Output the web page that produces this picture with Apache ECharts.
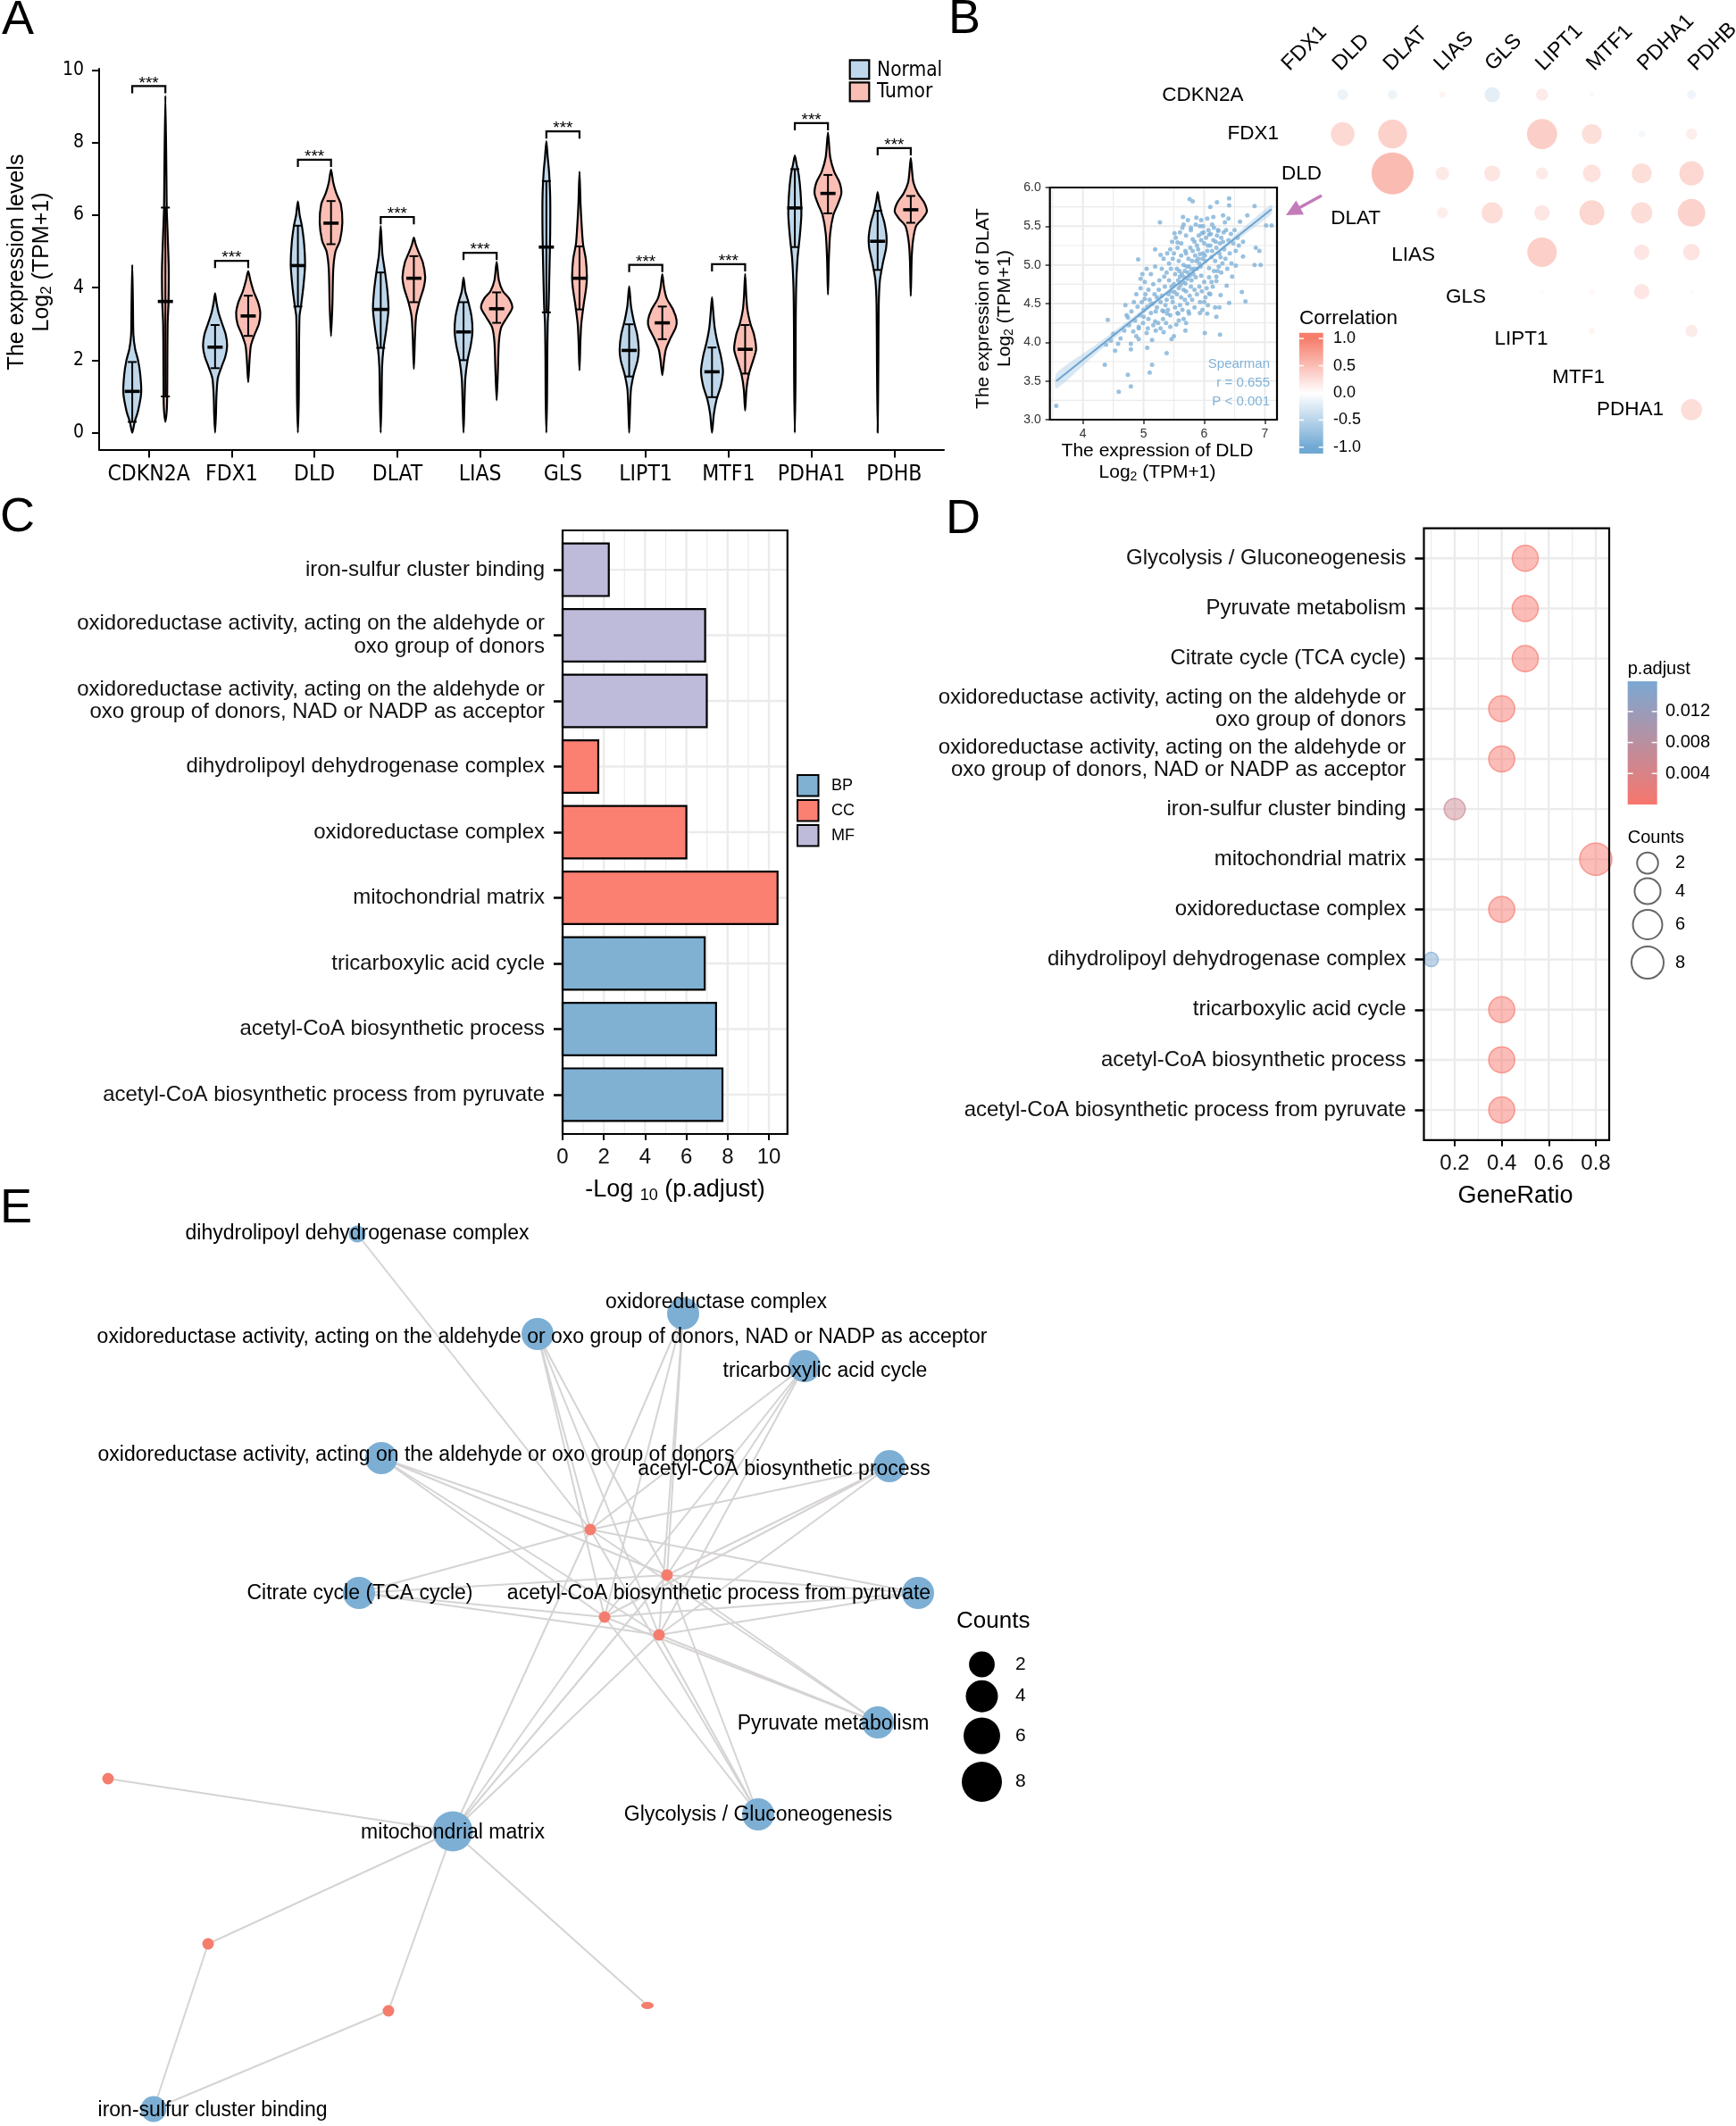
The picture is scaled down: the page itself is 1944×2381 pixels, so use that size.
<!DOCTYPE html>
<html><head><meta charset="utf-8">
<script src="https://cdn.jsdelivr.net/npm/echarts@6/dist/echarts.min.js"></script>
<style>html,body{margin:0;padding:0;background:#fff}#c{width:1944px;height:2381px}</style>
</head><body><div id="c"></div>
<script>
// ================= DATA =================
// Panel A
const genesA = ['CDKN2A','FDX1','DLD','DLAT','LIAS','GLS','LIPT1','MTF1','PDHA1','PDHB'];
// violin profiles: [expression value, half-width reading]
const violinNormal = [
 [[0,0],[0.3,2.7],[0.6,6.5],[1.1,10],[1.6,9],[2.0,6.5],[2.3,3.3],[2.7,1.3],[3.5,0.8],[4.63,0]],
 [[0,0],[0.5,1],[1.0,1.5],[1.5,3],[1.8,7],[2.1,11.5],[2.4,13.5],[2.7,12],[3.0,8],[3.3,4],[3.6,1.5],[3.85,0]],
 [[0,0],[1,1],[2,1.2],[3.2,1.8],[3.5,3.5],[4.0,6],[4.6,8],[5.2,7],[5.7,4.5],[6.0,2],[6.38,0]],
 [[0,0],[1,1],[1.8,1.5],[2.3,3],[2.8,6],[3.4,8.7],[3.9,7.5],[4.4,5],[4.9,2],[5.3,1],[5.7,0]],
 [[0,0],[0.8,1],[1.5,2],[2.0,4.5],[2.4,8],[2.8,10],[3.2,9],[3.6,5.5],[3.9,2],[4.28,0]],
 [[0,0],[1,0.8],[2,1],[3,1.5],[3.5,2.5],[4.5,3.5],[5.5,4.3],[6.5,4.3],[7.2,3],[7.6,1.5],[8.04,0]],
 [[0,0],[0.7,1],[1.2,2],[1.6,5],[2.0,9.5],[2.3,10.7],[2.7,9],[3.1,5],[3.5,2],[4.04,0]],
 [[0,0],[0.5,2],[0.9,5],[1.3,10],[1.7,12.3],[2.1,10],[2.5,6],[2.9,3],[3.3,1.5],[3.74,0]],
 [[0,0],[1.5,0.8],[3,1],[4.0,1.5],[4.8,3],[5.4,5.5],[6.0,7.3],[6.6,6.5],[7.1,4.5],[7.4,2],[7.65,0]],
 [[0,0],[2,0.8],[3.5,1.2],[4.2,2.5],[4.7,6],[5.1,9.5],[5.4,10],[5.8,7.5],[6.1,4],[6.4,1.5],[6.64,0]]
];
const violinTumor = [
 [[0.3,0],[0.6,1.5],[1,2],[2,2.2],[3,2.5],[3.6,3.5],[4.5,3.8],[5.5,2.5],[6.2,1.5],[7,1.2],[9.3,0]],
 [[1.39,0],[2.0,1.5],[2.4,3],[2.7,7],[3.0,12],[3.3,13.5],[3.6,11],[3.9,6],[4.2,2.5],[4.46,0]],
 [[2.66,0],[3.5,1.5],[4.5,2.5],[5.0,5],[5.3,10],[5.8,12.7],[6.3,11],[6.6,6],[6.9,2.5],[7.26,0]],
 [[1.76,0],[2.6,1.2],[3.2,2.5],[3.6,6],[4.0,11],[4.3,12.7],[4.7,10],[5.0,5],[5.2,2],[5.38,0]],
 [[0.89,0],[1.8,1.5],[2.5,2.5],[2.9,5],[3.2,12],[3.45,17.5],[3.7,14],[3.9,7],[4.2,2.5],[4.71,0]],
 [[1.72,0],[2.5,1],[3.0,2],[3.5,4.5],[4.0,7.5],[4.3,8.3],[4.8,7],[5.2,4],[5.7,2.5],[6.3,1.2],[7.2,0]],
 [[1.59,0],[2.0,2],[2.3,4],[2.6,9],[2.9,15],[3.1,16],[3.4,12],[3.7,5],[4.0,2],[4.37,0]],
 [[0.61,0],[1.2,1.5],[1.6,4],[2.0,9],[2.3,12.3],[2.7,10],[3.0,6],[3.4,2.5],[3.8,1.2],[4.38,0]],
 [[3.81,0],[4.8,1],[5.5,2.5],[6.0,6],[6.3,11],[6.6,15],[6.9,13],[7.2,7],[7.6,2.5],[8.28,0]],
 [[3.77,0],[4.8,1],[5.3,2.5],[5.7,6],[5.9,13],[6.1,18],[6.35,15],[6.6,8],[6.9,3],[7.2,1.5],[7.58,0]]
];
// [low, median, high]
const statNormal = [[0.30,1.14,1.95],[1.78,2.36,2.97],[3.48,4.61,5.71],[2.34,3.40,4.42],[2.0,2.78,3.6],[3.32,5.12,6.94],[1.55,2.27,2.99],[0.98,1.68,2.35],[5.12,6.2,7.27],[4.49,5.28,6.12]];
const statTumor = [[1.0,3.62,6.21],[2.67,3.22,3.78],[5.2,5.78,6.39],[3.6,4.26,4.87],[3.03,3.42,3.87],[3.4,4.26,5.14],[2.58,3.03,3.48],[1.63,2.3,2.97],[6.05,6.6,7.11],[5.79,6.15,6.53]];
const sigBracketY = [9.56,4.74,7.53,5.95,4.96,8.31,4.63,4.65,8.54,7.85];
const sigLabel = ['***','***','***','***','***','***','***','***','***','***'];
const ticksA_y = [0,2,4,6,8,10];

// Panel B - correlation matrix (upper triangle)
const corrRowGenes = ['CDKN2A','FDX1','DLD','DLAT','LIAS','GLS','LIPT1','MTF1','PDHA1'];
const corrColGenes = ['FDX1','DLD','DLAT','LIAS','GLS','LIPT1','MTF1','PDHA1','PDHB'];
const corrUpper = [
 [0.01,-0.17,-0.15,0.10,-0.24,0.19,0.08,0.03,-0.14],
 [0.37,0.45,0.02,-0.04,0.47,0.31,-0.10,0.17],
 [0.655,0.21,0.25,0.19,0.28,0.31,0.38],
 [0.17,0.33,0.24,0.39,0.33,0.43],
 [0.03,0.46,0.04,0.24,0.26],
 [-0.06,0.08,0.24,0.06],
 [0.10,0.01,0.19],
 [0.03,0.01],
 [0.33]
];
const corrLegendTicks = [1.0,0.5,0.0,-0.5,-1.0];
// Panel B - DLD vs DLAT scatter
const dldDlatPoints = [
 [3.56,3.18],[4.59,3.36],[4.79,3.43],[4.74,3.58],[4.36,3.71],[5.10,3.61],[5.14,3.71],[5.38,3.86],[4.53,3.89],[4.79,3.91],
 [4.38,3.97],[4.46,4.02],[4.50,4.11],[4.41,4.29],[4.74,4.32],[4.91,5.07],[5.27,5.55],[6.01,4.12],[6.26,4.10],[6.62,4.65],
 [6.68,4.53],[6.41,4.51],[6.83,5.00],[6.93,5.00],[6.85,5.22],[6.91,5.18],[7.02,5.51],[7.11,5.51],[6.83,5.76],[6.71,5.64],
 [6.41,5.86],[6.41,5.77],[6.21,5.81],[5.76,5.85],[5.81,5.82],[6.10,5.75],[5.65,5.62],[5.87,5.61],[4.95,4.82],[5.02,4.56],
 [5.19,4.98],[5.19,5.20],[5.28,5.13],[5.44,5.20],[5.07,4.18],[4.92,4.20],[4.83,4.14],[4.88,4.08],[4.79,3.98],[4.92,4.04],
 [5.06,3.93],[5.14,4.03],[5.46,4.04],[5.50,4.08],[5.69,4.15],[5.33,4.13],[5.19,4.27],[5.00,4.33],[6.18,4.45],[6.27,4.61],
 [6.37,4.73],[6.46,4.85],[6.52,4.99],[6.64,5.11],[6.57,5.25],[6.64,5.30],[6.50,5.45],[6.59,5.56],[6.40,5.60],[6.31,5.64],
 [6.13,5.52],[6.23,5.44],[6.08,5.39],[5.66,5.52],[5.51,5.41],[5.56,5.29],[5.78,5.45],[5.93,5.50],[5.96,5.41],[5.81,5.33],
 [5.69,5.18],[6.20,4.33],[6.25,4.45],[6.05,4.37],[5.93,4.38],[5.75,4.37],[5.70,4.25],[5.54,4.23],[5.57,4.37],[5.39,4.37],
 [5.31,4.41],[5.22,4.45],[5.12,4.49],[6.08,4.63],[6.14,4.72],[6.20,4.79],[6.00,4.52],
 [5.30,4.60],[5.35,4.72],[5.38,4.55],[5.42,4.80],[5.45,4.66],[5.48,4.52],[5.50,4.75],[5.52,4.88],[5.55,4.62],[5.58,4.70],
 [5.60,4.85],[5.62,4.58],[5.65,4.78],[5.68,4.92],[5.70,4.66],[5.72,4.82],[5.75,4.98],[5.78,4.72],[5.80,5.05],[5.82,4.88],
 [5.85,5.12],[5.88,4.95],[5.90,5.20],[5.92,5.02],[5.95,4.86],[5.98,5.15],[6.00,5.28],[6.02,5.05],[6.05,5.18],[6.08,4.96],
 [6.10,5.25],[6.12,5.10],[6.15,5.32],[6.18,5.05],[6.20,5.22],[6.22,4.92],[6.25,5.15],[6.28,5.35],[6.30,5.02],[6.33,5.20],
 [5.40,4.42],[5.44,4.35],[5.47,4.58],[5.36,4.48],[5.33,4.40],[5.28,4.52],[5.25,4.68],[5.22,4.58],[5.20,4.40],[5.18,4.62],
 [5.15,4.50],[5.12,4.38],[5.10,4.55],[5.06,4.46],[5.03,4.62],[5.00,4.42],[4.97,4.52],[4.94,4.35],[4.90,4.46],[4.86,4.28],
 [5.55,4.95],[5.58,5.05],[5.62,5.12],[5.66,5.00],[5.70,5.15],[5.74,5.08],[5.77,5.22],[5.81,5.18],[5.84,5.30],[5.88,5.25],
 [5.91,5.38],[5.95,5.32],[5.99,5.42],[6.03,5.35],[6.07,5.45],[6.11,5.40],[6.16,5.48],[6.21,5.38],[6.26,5.28],[6.32,5.42],
 [5.52,4.45],[5.56,4.38],[5.60,4.48],[5.64,4.42],[5.68,4.55],[5.72,4.50],[5.76,4.60],[5.80,4.55],[5.84,4.68],[5.88,4.62],
 [5.92,4.72],[5.96,4.66],[6.00,4.78],[6.04,4.70],[6.08,4.84],[6.12,4.78],[6.16,4.92],[6.20,4.85],[6.24,4.98],[6.28,4.90],
 [6.35,5.08],[6.38,4.95],[6.42,5.15],[6.45,5.02],[6.48,5.28],[6.52,5.18],[6.40,5.32],[6.36,5.45],[6.44,5.40],[6.55,5.35],
 [5.45,4.95],[5.48,5.08],[5.42,5.02],[5.38,4.90],[5.34,4.85],[5.30,4.95],[5.26,4.80],[5.50,5.15],[5.56,5.22],[5.62,5.28],
 [5.66,4.68],[5.63,4.88],[5.69,4.76],[5.73,4.90],[5.79,4.80],[5.83,4.95],[5.86,4.84],[5.90,5.08],[5.94,4.98],[5.97,5.08],
 [5.41,4.62],[5.46,4.72],[5.51,4.65],[5.57,4.80],[5.59,4.92],[5.61,4.74],[5.67,4.84],[5.71,4.98],[5.76,4.86],[5.79,4.94],
 [5.87,5.05],[5.93,5.14],[6.01,5.12],[6.06,5.25],[6.13,5.18],[6.19,5.30],[6.23,5.45],[6.27,5.10],[6.31,5.30],[6.34,5.55],
 [5.32,4.30],[5.24,4.25],[5.16,4.22],[5.08,4.30],[5.28,4.18],[5.37,4.25],[5.44,4.20],[5.58,4.28],[5.66,4.30],[5.74,4.40],
 [5.84,4.45],[5.93,4.52],[6.02,4.58],[6.10,4.62],[5.53,5.35],[5.60,5.42],[5.70,5.38],[5.78,5.48],[5.86,5.52],[5.95,5.58],
 [6.05,5.60],[6.15,5.62],[5.97,4.42],[6.06,4.48],[5.98,5.50],[5.73,5.58],[5.64,5.48],[5.47,5.30],[5.39,5.15],[5.33,5.08],
 [4.80,4.40],[4.84,4.52],[4.88,4.62],[4.95,4.70],[5.02,4.78],[4.76,4.22],[4.72,4.35],[4.68,4.15],[4.62,4.05],[4.58,3.98],
 [4.70,4.48],[4.98,4.88],[5.05,4.95],[5.12,4.88],[5.16,4.75],[5.08,4.68],[4.92,4.18],[4.99,4.25],[5.05,4.12],[5.20,4.15]
];
const regLine = [[3.56,3.50],[7.11,5.72]];
const regBand = [[3.56,3.40,3.60],[4.2,3.84,3.96],[5.0,4.365,4.435],[5.7,4.816,4.86],[6.4,5.241,5.311],[7.11,5.66,5.78]];
const spearmanText = ['Spearman','r = 0.655','P < 0.001'];
const ticksB_x = [4,5,6,7];
const ticksB_y = [3.0,3.5,4.0,4.5,5.0,5.5,6.0];

// Panel C (bottom -> top)
const goTerms = ['acetyl-CoA biosynthetic process from pyruvate','acetyl-CoA biosynthetic process','tricarboxylic acid cycle','mitochondrial matrix','oxidoreductase complex','dihydrolipoyl dehydrogenase complex','oxidoreductase activity, acting on the aldehyde or\noxo group of donors, NAD or NADP as acceptor','oxidoreductase activity, acting on the aldehyde or\noxo group of donors','iron-sulfur cluster binding'];
const goOntology = ['BP','BP','BP','CC','CC','CC','MF','MF','MF'];
const goNegLog10P = [7.75,7.44,6.89,10.42,6.0,1.73,6.99,6.91,2.24];
const ontologyNames = ['BP','CC','MF'];
const ticksC_x = [0,2,4,6,8,10];

// Panel D (bottom -> top)
const termsD = ['acetyl-CoA biosynthetic process from pyruvate','acetyl-CoA biosynthetic process','tricarboxylic acid cycle','dihydrolipoyl dehydrogenase complex','oxidoreductase complex','mitochondrial matrix','iron-sulfur cluster binding','oxidoreductase activity, acting on the aldehyde or\noxo group of donors, NAD or NADP as acceptor','oxidoreductase activity, acting on the aldehyde or\noxo group of donors','Citrate cycle (TCA cycle)','Pyruvate metabolism','Glycolysis / Gluconeogenesis'];
const geneRatioD = [0.4,0.4,0.4,0.1,0.4,0.8,0.2,0.4,0.4,0.5,0.5,0.5];
const countsD = [4,4,4,1,4,8,2,4,4,4,4,4];
const pAdjustD = [1.8e-8,3.6e-8,1.3e-7,0.0159,1.0e-6,3.5e-11,0.0058,1.0e-7,1.2e-7,2e-6,1e-6,3e-6];
const ticksD_x = [0.2,0.4,0.6,0.8];
const pLegendTicks = [0.012,0.008,0.004];
const countLegend = [2,4,6,8];

// Panel E - network (layout units)
const netCategories = ['dihydrolipoyl dehydrogenase complex','oxidoreductase complex','oxidoreductase activity, acting on the aldehyde or oxo group of donors, NAD or NADP as acceptor','tricarboxylic acid cycle','oxidoreductase activity, acting on the aldehyde or oxo group of donors','acetyl-CoA biosynthetic process','Citrate cycle (TCA cycle)','acetyl-CoA biosynthetic process from pyruvate','Pyruvate metabolism','Glycolysis / Gluconeogenesis','mitochondrial matrix','iron-sulfur cluster binding'];
const netCatCounts = [1,4,4,4,4,4,4,4,4,4,8,2];
const netCatLayout = [[3.00,0.12],[6.65,1.01],[5.02,1.24],[8.01,1.60],[3.27,2.63],[8.96,2.72],[3.02,4.14],[9.28,4.14],[8.83,5.59],[7.49,6.62],[4.07,6.81],[0.72,9.92]];
const netGeneLayout = [[5.61,3.43],[6.47,3.94],[5.77,4.41],[6.38,4.61],[0.21,6.22],[1.33,8.07],[3.35,8.82],[6.25,8.76]];
const netCatGenes = [[0],[0,1,2,3],[0,1,2,3],[0,1,2,3],[0,1,2,3],[0,1,2,3],[0,1,2,3],[0,1,2,3],[0,1,2,3],[0,1,2,3],[0,1,2,3,4,5,6,7],[5,6]];

// ================= STYLE / LAYOUT =================
const FONT = '"Liberation Sans", Arial, Helvetica, sans-serif';
const NARROW = '"Liberation Sans Narrow", "Arial Narrow", "DejaVu Sans Condensed", sans-serif';
const VW = 1/92.75;            // violin width reading -> category units
const C_NORMAL = '#BED7EB', C_TUMOR = '#FABEB4';
const ONT_COLOR = {BP:'#80B1D3', CC:'#FB8072', MF:'#BEBADA'};
const GRID_COL = '#EBEBEB';
const CORR_DIAM = 71.8;
const RED = [246,125,108], BLUE = [111,168,211];
const P_RED = [248,118,109], P_BLUE = [123,168,210];
const P_MAX = 0.0159;
function mix(a,b,t){return a.map((v,i)=>Math.round(v+(b[i]-v)*t));}
function rgb(c,a){return a===undefined?`rgb(${c[0]},${c[1]},${c[2]})`:`rgba(${c[0]},${c[1]},${c[2]},${a})`;}
function corrColor(r){return r>=0? rgb(mix([255,255,255],RED,r)) : rgb(mix([255,255,255],BLUE,-r));}
function pColor(p,a){return rgb(mix(P_RED,P_BLUE,Math.min(1,p/P_MAX)),a);}
const sizeD = c => 16 + 20*Math.sqrt((c-1)/7);
const sizeE = c => 19 + 26*Math.sqrt((c-1)/7);

const corrRowLabelRight = [1392.6,1432,1480,1546,1607,1664,1733.6,1797,1863];
const corrRowLabelY = [107,150,195,245,286,333,380,423,459];
const netLabelOffset = [[0,0],[37,-12],[5,4],[23,6],[39,-3],[-118,4],[1,1],[-223,1],[-50,2],[0,1],[0,2],[66,2]];

// ================= CHART =================
const chart = echarts.init(document.getElementById('c'), null, {renderer:'canvas', width:1944, height:2381});

const grids = [
 {left:111, top:77, width:946, height:426.6},
 {left:1419.9, top:83.95, width:502.2, height:396.9},
 {left:1175.7, top:210, width:254.3, height:260},
 {left:630, top:594, width:251.8, height:676},
 {left:1594.5, top:591.6, width:207.5, height:685.2},
 {left:100, top:1370, width:1000, height:1000}
].map(g=>Object.assign({containLabel:false, outerBoundsMode:'none', show:false}, g));

function valAxis(gi, min, max, extra){
  return Object.assign({type:'value', gridIndex:gi, min, max, splitLine:{show:false}, minorSplitLine:{show:false},
    axisLine:{show:false, onZero:false}}, extra||{});
}
const xAxes = [
 valAxis(0,-0.6,9.6,{axisLine:{show:true,onZero:false,lineStyle:{color:'#000',width:2}},
   axisTick:{show:true,customValues:genesA.map((g,i)=>i),length:9,lineStyle:{color:'#000',width:2}},
   axisLabel:{customValues:genesA.map((g,i)=>i),formatter:v=>genesA[Math.round(v)],fontFamily:NARROW,fontSize:24.5,color:'#000',margin:16}}),
 valAxis(1,-0.5,8.5,{show:false}),
 valAxis(2,3.455,7.2,{axisTick:{show:true,customValues:ticksB_x,length:5,lineStyle:{color:'#333',width:1.5}},
   axisLabel:{customValues:ticksB_x,fontFamily:FONT,fontSize:14,color:'#333',margin:9}}),
 valAxis(3,0,10.9,{axisTick:{show:true,customValues:ticksC_x,length:7,lineStyle:{color:'#000',width:2}},
   axisLabel:{customValues:ticksC_x,fontFamily:FONT,fontSize:24,color:'#111',margin:14}}),
 valAxis(4,0.069,0.857,{axisTick:{show:true,customValues:ticksD_x,length:7,lineStyle:{color:'#000',width:2}},
   axisLabel:{customValues:ticksD_x,formatter:v=>v.toFixed(1),fontFamily:FONT,fontSize:24,color:'#111',margin:15}}),
 valAxis(5,0,10,{show:false})
];
const yAxes = [
 valAxis(0,-0.468,10.039,{axisLine:{show:true,onZero:false,lineStyle:{color:'#000',width:2}},
   axisTick:{show:true,customValues:ticksA_y,length:8,lineStyle:{color:'#000',width:2}},
   axisLabel:{customValues:ticksA_y,fontFamily:NARROW,fontSize:21,color:'#000',margin:17}}),
 valAxis(1,-0.5,8.5,{show:false,inverse:true}),
 valAxis(2,3,6,{axisTick:{show:true,customValues:ticksB_y,length:5,lineStyle:{color:'#333',width:1.5}},
   axisLabel:{customValues:ticksB_y,formatter:v=>v.toFixed(1),fontFamily:FONT,fontSize:14,color:'#333',margin:10}}),
 valAxis(3,-0.6,8.6,{axisTick:{show:true,customValues:goTerms.map((t,i)=>i),length:10,lineStyle:{color:'#000',width:2.5}},
   axisLabel:{customValues:goTerms.map((t,i)=>i),formatter:v=>goTerms[Math.round(v)],fontFamily:FONT,fontSize:24,lineHeight:25.5,color:'#111',margin:20,align:'right'}}),
 valAxis(4,-0.6,11.6,{axisTick:{show:true,customValues:termsD.map((t,i)=>i),length:10,lineStyle:{color:'#000',width:2.5}},
   axisLabel:{customValues:termsD.map((t,i)=>i),formatter:v=>termsD[Math.round(v)],fontFamily:FONT,fontSize:24,lineHeight:25.5,color:'#111',margin:20,align:'right'}}),
 valAxis(5,0,10,{show:false,inverse:true})
];

function gridLines(gi, ax, ay, vlines, hlines){
  return {type:'custom', xAxisIndex:gi, yAxisIndex:gi, z:1, silent:true, data:[[ax,ay]],
    renderItem(params, api){
      const cs = params.coordSys; const ch = [];
      vlines.forEach(([vals,w])=>vals.forEach(v=>{const x=api.coord([v,ay])[0];
        ch.push({type:'line',shape:{x1:x,y1:cs.y,x2:x,y2:cs.y+cs.height},style:{stroke:GRID_COL,lineWidth:w}});}));
      hlines.forEach(([vals,w])=>vals.forEach(v=>{const y=api.coord([ax,v])[1];
        ch.push({type:'line',shape:{x1:cs.x,y1:y,x2:cs.x+cs.width,y2:y},style:{stroke:GRID_COL,lineWidth:w}});}));
      return {type:'group',children:ch};
    }};
}
function frame(gi, ax, ay){
  return {type:'custom', xAxisIndex:gi, yAxisIndex:gi, z:8, silent:true, data:[[ax,ay]],
    renderItem(params){const cs=params.coordSys;
      return {type:'rect',shape:{x:cs.x,y:cs.y,width:cs.width,height:cs.height},style:{fill:'none',stroke:'#000',lineWidth:2.2}};}};
}
function violinSeries(profiles, offset, color){
  return {type:'custom', xAxisIndex:0, yAxisIndex:0, z:2, silent:true,
    data: profiles.map((p,i)=>[i, p[0][0]]),
    renderItem(params, api){
      const i = api.value(0); const prof = profiles[i]; const cx = i + offset;
      const right = prof.map(([v,w])=>api.coord([cx + w*VW, v]));
      const left = prof.slice(1,-1).reverse().map(([v,w])=>api.coord([cx - w*VW, v]));
      return {type:'polygon', shape:{points:right.concat(left), smooth:0.25},
        style:{fill:color, stroke:'#000', lineWidth:2.2, lineJoin:'round'}};
    }};
}
function statSeries(stats, offset){
  return {type:'custom', xAxisIndex:0, yAxisIndex:0, z:3, silent:true,
    data: stats.map((s,i)=>[i, s[1]]),
    renderItem(params, api){
      const i = api.value(0); const [lo,md,hi] = stats[i]; const cx = i + offset;
      const c = (dx,v)=>api.coord([cx+dx*VW, v]);
      const L = (a,b,w)=>({type:'line',shape:{x1:a[0],y1:a[1],x2:b[0],y2:b[1]},style:{stroke:'#000',lineWidth:w}});
      return {type:'group',children:[
        L(c(0,lo),c(0,hi),2), L(c(-5,lo),c(5,lo),2), L(c(-5,hi),c(5,hi),2), L(c(-8.5,md),c(8.5,md),3.6)]};
    }};
}
const bracketSeries = {type:'custom', xAxisIndex:0, yAxisIndex:0, z:3, silent:true,
  data: sigBracketY.map((y,i)=>[i,y]),
  renderItem(params, api){
    const i = api.value(0), y = api.value(1);
    const a=api.coord([i-0.2,y-0.2]), b=api.coord([i-0.2,y]), c=api.coord([i+0.2,y]), d=api.coord([i+0.2,y-0.2]);
    return {type:'group',children:[
      {type:'polyline',shape:{points:[a,b,c,d]},style:{stroke:'#000',lineWidth:2.2,fill:'none'}},
      {type:'text',style:{text:sigLabel[i],x:(b[0]+c[0])/2,y:b[1]-3,fill:'#000',fontSize:19,fontFamily:FONT,align:'center',verticalAlign:'middle'}}]};
  }};

// corr matrix data
const corrData = [];
corrUpper.forEach((row,r)=>row.forEach((v,k)=>{const c=r+k;
  corrData.push({value:[c,r,v], itemStyle:{color:corrColor(v)}});}));

// network
const netNodes = netCategories.map((n,i)=>({name:n, value:netCatLayout[i], symbolSize:sizeE(netCatCounts[i]),
  itemStyle:{color:'#7DAFD4'}, label:{show:true, offset:netLabelOffset[i]}}))
 .concat(netGeneLayout.map((p,j)=>({name:'gene'+(j+1), value:p, symbolSize: j===7?[14,8]:13,
  itemStyle:{color:'#F47D6E'}, label:{show:false}})));
const netLinks = [];
netCatGenes.forEach((gs,ci)=>gs.forEach(g=>netLinks.push({source:ci, target:netCategories.length+g})));

const series = [
  // A
  violinSeries(violinNormal,-0.2,C_NORMAL), violinSeries(violinTumor,0.2,C_TUMOR),
  statSeries(statNormal,-0.2), statSeries(statTumor,0.2), bracketSeries,
  // B corr
  {type:'scatter', xAxisIndex:1, yAxisIndex:1, z:2, silent:true, data:corrData, symbol:'circle',
    symbolSize:v=>CORR_DIAM*Math.abs(v[2])},
  // B scatter
  gridLines(2,5,4.5,[[[3.5,4.5,5.5,6.5],1.1],[ticksB_x,2]],[[[3.25,3.75,4.25,4.75,5.25,5.75],1.1],[ticksB_y,2]]),
  {type:'scatter', xAxisIndex:2, yAxisIndex:2, z:2, silent:true, data:dldDlatPoints, symbolSize:5,
    itemStyle:{color:'#7FB2D8', opacity:0.8}},
  {type:'custom', xAxisIndex:2, yAxisIndex:2, z:3, silent:true, data:[[regBand[0][0],regBand[0][1]]],
    renderItem(params, api){
      const up = regBand.map(b=>api.coord([b[0],b[2]])); const lo = regBand.slice().reverse().map(b=>api.coord([b[0],b[1]]));
      return {type:'polygon',shape:{points:up.concat(lo),smooth:0.2},style:{fill:'rgba(160,198,228,0.4)'}};
    }},
  {type:'line', xAxisIndex:2, yAxisIndex:2, z:4, silent:true, data:regLine, showSymbol:false, symbol:'none',
    lineStyle:{color:'#6CA2CF', width:2}},
  frame(2,5,4.5),
  // C
  gridLines(3,5,4,[[[1,3,5,7,9],1.2],[ticksC_x,2.4]],[[goTerms.map((t,i)=>i),2.4]]),
  {type:'custom', xAxisIndex:3, yAxisIndex:3, z:3, silent:true, data:goNegLog10P.map((v,i)=>[v,i]),
    renderItem(params, api){
      const v=api.value(0), i=api.value(1); const p0=api.coord([0,i+0.4]), p1=api.coord([v,i-0.4]);
      return {type:'rect',shape:{x:p0[0],y:p0[1],width:p1[0]-p0[0],height:p1[1]-p0[1]},
        style:{fill:ONT_COLOR[goOntology[i]],stroke:'#000',lineWidth:2.2}};
    }},
  frame(3,5,4),
  // D
  gridLines(4,0.4,5,[[[0.1,0.3,0.5,0.7],1.2],[ticksD_x,2.4]],[[termsD.map((t,i)=>i),2.4]]),
  {type:'scatter', xAxisIndex:4, yAxisIndex:4, z:3, silent:true, symbol:'circle',
    data: geneRatioD.map((g,i)=>({value:[g,i,countsD[i],pAdjustD[i]],
      itemStyle:{color:pColor(pAdjustD[i],0.6), borderColor:pColor(pAdjustD[i],0.85), borderWidth:1.5}})),
    symbolSize:v=>sizeD(v[2])},
  frame(4,0.4,5),
  // E
  {type:'graph', coordinateSystem:'cartesian2d', xAxisIndex:5, yAxisIndex:5, z:3, silent:true,
    data:netNodes, links:netLinks, symbol:'circle', edgeSymbol:['none','none'],
    lineStyle:{color:'#D6D3D3', width:2, opacity:1, curveness:0},
    label:{position:'inside', color:'#000', fontSize:23, fontFamily:FONT, formatter:'{b}'},
    emphasis:{disabled:true}, animation:false}
];

// ================= GRAPHIC (titles, legends) =================
const G = [];
function T(x,y,text,o){o=o||{};G.push({type:'text',x,y,rotation:o.rot||0,silent:true,z:50,
  style:Object.assign({text,fill:o.fill||'#000',fontFamily:o.ff||FONT,fontSize:o.fs||22,align:o.align||'left',verticalAlign:o.va||'middle'},o.rich?{rich:o.rich}:{})});}
function R(x,y,w,h,fill,stroke,lw){G.push({type:'rect',silent:true,z:50,shape:{x,y,width:w,height:h},style:{fill,stroke:stroke||null,lineWidth:lw||0}});}
function Ln(x1,y1,x2,y2,stroke,lw){G.push({type:'line',silent:true,z:51,shape:{x1,y1,x2,y2},style:{stroke,lineWidth:lw}});}
function Cir(cx,cy,r,style){G.push({type:'circle',silent:true,z:50,shape:{cx,cy,r},style});}

// panel letters
T(2,23.5,'A',{fs:54}); T(1062,22,'B',{fs:54}); T(0,580,'C',{fs:54}); T(1059,582,'D',{fs:54}); T(0,1354,'E',{fs:54});

// A y title
const richSub = (fs,sfs)=>({a:{fontSize:fs,fontFamily:FONT,lineHeight:fs+3,fill:'#000'},s:{fontSize:sfs,fontFamily:FONT,lineHeight:Math.round(sfs*0.7),verticalAlign:'bottom',fill:'#000'}});
T(33,293.5,'{a|The expression levels}\n{a|Log}{s|2}{a| (TPM+1)}',{rot:Math.PI/2,align:'center',rich:richSub(25,17)});
// A legend
R(951.7,67.3,21.6,21,C_NORMAL,'#000',2.2); R(951.7,92.3,21.6,21,C_TUMOR,'#000',2.2);
T(982,79,'Normal',{ff:NARROW,fs:22.5}); T(982,103.3,'Tumor',{ff:NARROW,fs:22.5});

// B corr labels
corrColGenes.forEach((g,i)=>{
  G.push({type:'text',x:1448+56.9*i,y:84,rotation:Math.PI/4,silent:true,z:50,style:{text:g,fill:'#000',fontFamily:FONT,fontSize:23.5,align:'left',verticalAlign:'bottom'}});});
corrRowGenes.forEach((g,i)=>T(corrRowLabelRight[i],corrRowLabelY[i],g,{align:'right',fs:22.5}));
// B scatter titles
T(1113.5,345.5,'{a|The expression of DLAT}\n{a|Log}{s|2}{a| (TPM+1)}',{rot:Math.PI/2,align:'center',rich:richSub(21,14)});
T(1296,517.5,'{a|The expression of DLD}\n{a|Log}{s|2}{a| (TPM+1)}',{align:'center',rich:richSub(21,14)});
spearmanText.forEach((s,i)=>T(1422,408+i*20.7,s,{align:'right',fs:15,fill:'#7FB2D8'}));
// arrow
Ln(1480,219,1454,233.3,'#C47BBA',3.5);
G.push({type:'polygon',silent:true,z:51,shape:{points:[[1440,241],[1460.1,240.2],[1451.4,224.4]]},style:{fill:'#C47BBA'}});
// Correlation colorbar
T(1455,356.7,'Correlation',{fs:22.5});
R(1455,372.7,26.7,135.3,new echarts.graphic.LinearGradient(0,0,0,1,[
  {offset:0,color:rgb(RED)},{offset:0.047,color:rgb(RED)},{offset:0.5,color:'#ffffff'},{offset:0.953,color:rgb(BLUE)},{offset:1,color:rgb(BLUE)}]));
corrLegendTicks.forEach(t=>{const y=440-t*60.85; Ln(1455,y,1460,y,'#fff',1.5); Ln(1476.7,y,1481.7,y,'#fff',1.5);
  T(1493,y,t.toFixed(1),{fs:18});});

// C legend + title
ontologyNames.forEach((o,i)=>{R(893,868+i*28,23.5,23.5,ONT_COLOR[o],'#000',2); T(931,880.5+i*27.7,o,{fs:18});});
T(756,1333,'{a|-Log }{s|10}{a| (p.adjust)}',{align:'center',rich:{a:{fontSize:27,fontFamily:FONT,lineHeight:30,fill:'#000'},s:{fontSize:18,fontFamily:FONT,lineHeight:14,verticalAlign:'bottom',fill:'#000'}}});

// D legend + title
T(1697,1340,'GeneRatio',{align:'center',fs:27});
T(1822.7,749,'p.adjust',{fs:20});
R(1822.7,763,33,138,new echarts.graphic.LinearGradient(0,0,0,1,[{offset:0,color:rgb(P_BLUE)},{offset:1,color:rgb(P_RED)}]));
pLegendTicks.forEach(t=>{const y=901-t/P_MAX*138; Ln(1822.7,y,1828.7,y,'#fff',1.5); Ln(1849.7,y,1855.7,y,'#fff',1.5);
  T(1865,y,t.toFixed(3),{fs:20});});
T(1822.7,938.6,'Counts',{fs:20});
const dLegY=[966.6,998,1035.5,1078];
countLegend.forEach((c,i)=>{Cir(1845,dLegY[i],sizeD(c)/2,{fill:'none',stroke:'#666',lineWidth:2}); T(1876,dLegY[i],String(c),{fs:20});});

// E legend
T(1071,1816,'Counts',{fs:26});
const eLegY=[1864,1899.7,1944,1995.5];
countLegend.forEach((c,i)=>{Cir(1099.5,eLegY[i],sizeE(c)/2,{fill:'#000'}); T(1137,eLegY[i],String(c),{fs:21});});

chart.setOption({animation:false, backgroundColor:'#fff', grid:grids, xAxis:xAxes, yAxis:yAxes, series, graphic:{elements:G}});
</script></body></html>
